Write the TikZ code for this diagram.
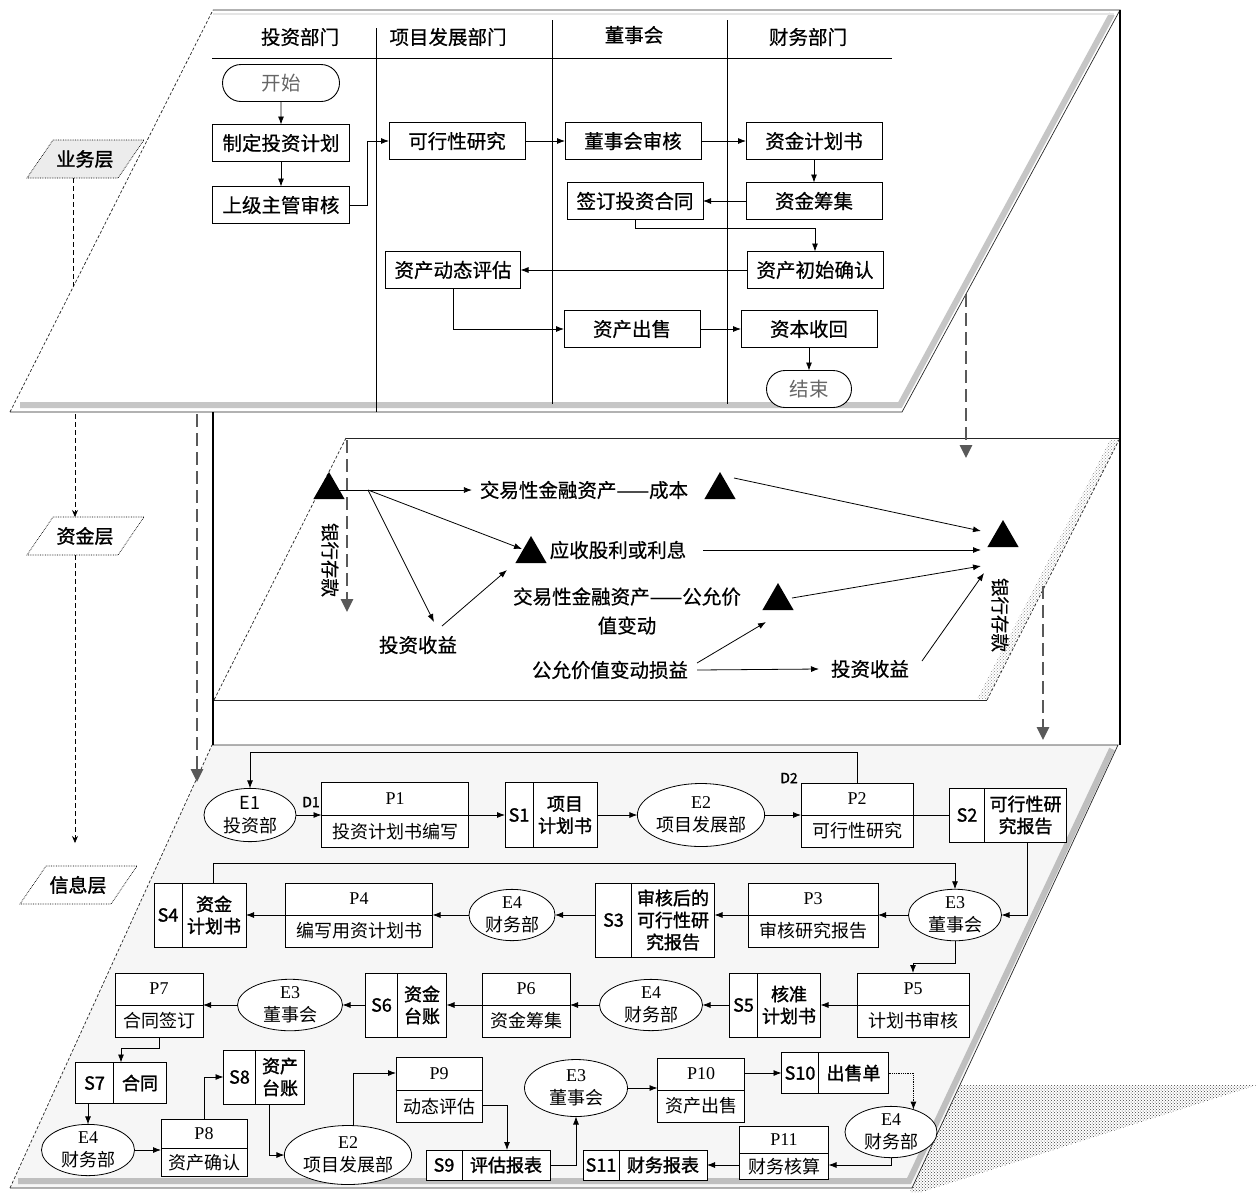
\documentclass[tikz,border=0pt]{standalone}
\usepackage{fontspec}
\setmainfont{Noto Sans CJK SC}
\newfontfamily\lserif{Liberation Serif}
\newfontfamily\cjkb[FakeBold=1.5]{Noto Sans CJK SC}
\newfontfamily\cjkm[FakeBold=0.6]{Noto Sans CJK SC}
\usetikzlibrary{arrows.meta,shapes.geometric,shapes.misc,calc,patterns}
\newcommand\fsz[2]{\fontsize{#1}{#2}\selectfont}
\tikzset{
  every node/.style={inner sep=0pt, outer sep=0pt},
  thinl/.style={line width=0.8pt},
  edge/.style={draw=black!85, line width=0.7pt},
  arr/.style={draw=black, line width=0.8pt, -{Latex[length=8pt,width=6pt]}},
  bigdash/.style={draw=black!65, line width=2.6pt, dash pattern=on 13pt off 6pt, -{Triangle[length=13pt,width=12pt]}},
  lbldash/.style={draw=black, line width=0.7pt, dash pattern=on 5pt off 3pt},
  lbl/.style={font=\cjkb\fsz{19}{22}, minimum width=92pt, minimum height=38pt},
  bbox/.style={draw=black, fill=white, line width=0.9pt, minimum width=136pt, minimum height=37pt, font=\cjkm\fsz{19.5}{23}},
  term/.style={draw=black, fill=white, line width=0.9pt, rounded rectangle, minimum height=37pt, font=\fsz{19.5}{23}, text=black!60},
  hdr/.style={font=\cjkm\fsz{19.5}{23}},
  tri/.style={regular polygon, regular polygon sides=3, fill=black, minimum size=36pt},
  mtxt/.style={font=\cjkm\fsz{19.5}{29}, align=center},
  bank/.style={font=\cjkm\fsz{18.5}{21}, rotate=-90},
  pbox/.style={draw=black, fill=white, line width=0.8pt},
  ptxt/.style={font=\fsz{18}{21}},
  stxt/.style={font=\cjkb\fsz{18}{22}, align=center},
  ell/.style={ellipse, draw=black, fill=white, line width=0.8pt, align=center, font=\fsz{18}{23}},
}
\newcommand\proc[7]{%
  \node[pbox, minimum width=#4pt, minimum height=#5pt] (#1) at (#2,#3) {};
  \draw[thinl] (#1.west) -- (#1.east);
  \node[ptxt] (#1-t) at ($(#1.north)!0.5!(#1.center)$) {\lserif #6};
  \node[ptxt] (#1-b) at ($(#1.south)!0.5!(#1.center)$) {#7};
}
\newcommand\store[8]{%
  \node[pbox, minimum width=#4pt, minimum height=#5pt] (#1) at (#2,#3) {};
  \draw[thinl] ([xshift=#6pt]#1.north west) -- ([xshift=#6pt]#1.south west);
  \node[stxt] (#1-l) at ($(#1.west)+(#6/2,0)$) {#7};
  \node[stxt] (#1-r) at ($([xshift=#6pt]#1.west)!0.5!(#1.east)$) {#8};
}
\begin{document}
\begin{tikzpicture}[x=1pt,y=-1pt]
\useasboundingbox (0,0) rectangle (1260,1192);
\fill[white] (0,0) rectangle (1260,1192);

% ---------------- top layer
\fill[white] (213,10) -- (1120,10) -- (902,412) -- (10,412) -- cycle;
\draw[gray!45, line width=6pt] (20,405) -- (900,405) -- (1112,14);
\draw[gray!20, line width=2pt] (213,14) -- (1114,14);
\draw[edge] (213,10) -- (1120,10) -- (902,412) -- (10,412);
\draw[edge, densely dashed] (10,412) -- (213,10);

% ---------------- middle layer
\fill[white] (346,438) -- (1120,438) -- (987,700) -- (214,700) -- cycle;
\fill[pattern=crosshatch dots, pattern color=black!45] (1110,440) -- (1119,440) -- (987,699) -- (977,699) -- cycle;
\draw[edge] (346,438) -- (1120,438);
\draw[edge] (214,700) -- (987,700);
\draw[edge, densely dashed] (987,700) -- (1120,438);
\draw[edge, densely dashed] (346,438) -- (214,700);

% ---------------- bottom layer
\fill[gray!7] (212,745) -- (1118,745) -- (912,1188) -- (10,1188) -- cycle;
\fill[pattern=crosshatch dots, pattern color=black!75] (960,1085) -- (1257,1085) -- (922,1192) -- (910,1192) -- cycle;
\draw[gray!50, line width=6pt] (18,1181) -- (909,1181) -- (1112,749);
\draw[edge] (212,745) -- (1118,745) -- (912,1188) -- (10,1188);
\draw[edge, densely dashed] (10,1188) -- (212,745);

% ---------------- frame
\draw[line width=2.2pt] (213,412) -- (213,745);
\draw[line width=2.2pt] (1120,10) -- (1120,745);

% ---------------- big dashed arrows
\coordinate (d1s) at (197,414); \coordinate (d1e) at (197,782);
\draw[bigdash] (d1s) -- (d1e);
\coordinate (d2s) at (966,294); \coordinate (d2e) at (966,458);
\draw[bigdash] (d2s) -- (d2e);
\coordinate (d3s) at (1043,586); \coordinate (d3e) at (1043,740);
\draw[bigdash] (d3s) -- (d3e);
\coordinate (d4s) at (347,440); \coordinate (d4e) at (347,612);
\draw[bigdash] (d4s) -- (d4e);

% ---------------- layer labels
\draw[densely dotted, fill=gray!15, line width=0.7pt] (53,140) -- (144,140) -- (118,178) -- (27,178) -- cycle;
\node[lbl] (L1) at (85,159) {业务层};
\draw[densely dotted, fill=white, line width=0.7pt] (53,517) -- (144,517) -- (118,555) -- (27,555) -- cycle;
\node[lbl] (L2) at (85,536) {资金层};
\draw[densely dotted, fill=white, line width=0.7pt] (46,866) -- (137,866) -- (111,904) -- (20,904) -- cycle;
\node[lbl] (L3) at (78,885) {信息层};
\coordinate (l1e) at (73,286);
\draw[lbldash] (L1.south -| l1e) -- (l1e);
\coordinate (l2s) at (75,414);
\draw[lbldash, -{Stealth[length=7pt,width=6pt]}] (l2s) -- (l2s |- L2.north);
\coordinate (l3e) at (75,843);
\draw[lbldash, -{Stealth[length=7pt,width=6pt]}] (l3e |- L2.south) -- (l3e);

% ---------------- swimlanes
\draw[thinl] (212,58) -- (892,58);
\draw[thinl] (376,28) -- (376,412);
\draw[thinl] (552,20) -- (552,404);
\draw[thinl] (727,20) -- (727,404);
\node[hdr] (h1) at (300,37) {投资部门};
\node[hdr] (h2) at (448,37) {项目发展部门};
\node[hdr] (h3) at (634,35) {董事会};
\node[hdr] (h4) at (808,37) {财务部门};

\node[term, minimum width=117pt] (start) at (281,83) {开始};
\node[bbox, minimum width=137pt] (plan) at (281,143) {制定投资计划};
\node[bbox, minimum width=137pt] (sup) at (281,205) {上级主管审核};
\node[bbox] (feas) at (457,141) {可行性研究};
\node[bbox] (brd) at (633,141) {董事会审核};
\node[bbox] (fplan) at (814,141) {资金计划书};
\node[bbox] (contr) at (635,201) {签订投资合同};
\node[bbox] (raise) at (814,201) {资金筹集};
\node[bbox, minimum width=135pt] (dyn) at (453,270) {资产动态评估};
\node[bbox] (init) at (815,270) {资产初始确认};
\node[bbox] (sell) at (632,329) {资产出售};
\node[bbox] (recov) at (809,329) {资本收回};
\node[term, minimum width=85pt] (end) at (809,389) {结束};

\draw[arr] (start) -- (plan);
\draw[arr] (plan) -- (sup);
\draw[arr] (sup.east) -- ++(18,0) |- (feas.west);
\draw[arr] (feas) -- (brd);
\draw[arr] (brd) -- (fplan);
\draw[arr] (fplan) -- (raise);
\draw[arr] (raise) -- (contr);
\draw[arr] (contr.south) -- ++(0,9) -| (init.north);
\draw[arr] (init) -- (dyn);
\draw[arr] (dyn.south) |- (sell.west);
\draw[arr] (sell) -- (recov);
\draw[arr] (recov) -- (end);

% ---------------- middle layer content
\node[tri] (T1) at (329,490) {};
\node[tri] (T2) at (720,490) {};
\node[tri] (T3) at (531,554) {};
\node[tri] (T4) at (778,601) {};
\node[tri] (T5) at (1003,538) {};
\node[mtxt] (c1) at (584,490) {交易性金融资产——成本};
\node[mtxt] (c2) at (618,550) {应收股利或利息};
\node[mtxt] (c3) at (418,645) {投资收益};
\node[mtxt] (c4) at (627,611) {交易性金融资产——公允价\\值变动};
\node[mtxt] (c5) at (610,670) {公允价值变动损益};
\node[mtxt] (c6) at (870,669) {投资收益};
\node[bank] (b1) at (330,560) {银行存款};
\node[bank] (b2) at (1000,615) {银行存款};

\coordinate (br) at (368,490);
\draw[arr] (T1.center) -- ([xshift=-8pt]c1.west);
\coordinate (a2) at (522,549); \draw[arr] (br) -- (a2);
\coordinate (a3) at (434,622); \draw[arr] (br) -- (a3);
\coordinate (a4s) at (442,626); \coordinate (a4e) at (507,570); \draw[arr] (a4s) -- (a4e);
\coordinate (a5s) at (734,478); \coordinate (a5e) at (981,531); \draw[arr] (a5s) -- (a5e);
\coordinate (a6e) at (981,550); \draw[arr] ([xshift=17pt]c2.east) -- (a6e);
\coordinate (a7s) at (792,598); \coordinate (a7e) at (981,566); \draw[arr] (a7s) -- (a7e);
\coordinate (a8s) at (697,663); \coordinate (a8e) at (766,622); \draw[arr] (a8s) -- (a8e);
\draw[arr] ([xshift=9pt]c5.east) -- ([xshift=-12pt]c6.west);
\coordinate (a10s) at (922,661); \coordinate (a10e) at (984,573); \draw[arr] (a10s) -- (a10e);

% ---------------- bottom layer content
\node[ell, minimum width=92pt, minimum height=50pt] (E1) at (250,815) {E1\\投资部};
\proc{P1}{395}{815}{147}{65}{P1}{投资计划书编写}
\store{S1}{551}{815}{92}{65}{28}{S1}{项目\\计划书}
\node[ell, minimum width=127pt, minimum height=63pt] (E2) at (701,815) {{\lserif E2}\\项目发展部};
\proc{P2}{857}{815}{112}{64}{P2}{可行性研究}
\store{S2}{1008}{815}{117}{54}{35}{S2}{可行性研\\究报告}
\node[font=\cjkb\fsz{14}{16}] (D1) at (311,802) {D1};
\node[font=\cjkb\fsz{14}{16}] (D2) at (789,778) {D2};

\node[ell, minimum width=93pt, minimum height=50pt] (E3a) at (955,915) {{\lserif E3}\\董事会};
\proc{P3}{813}{915}{130}{64}{P3}{审核研究报告}
\store{S3}{655}{920}{119}{74}{36}{S3}{审核后的\\可行性研\\究报告}
\node[ell, minimum width=86pt, minimum height=48pt] (E4a) at (512,915) {{\lserif E4}\\财务部};
\proc{P4}{359}{915}{147}{64}{P4}{编写用资计划书}
\store{S4}{200}{915}{92}{64}{28}{S4}{资金\\计划书}

\proc{P5}{913}{1005}{112}{64}{P5}{计划书审核}
\store{S5}{775}{1005}{91}{64}{28}{S5}{核准\\计划书}
\node[ell, minimum width=103pt, minimum height=50pt] (E4b) at (651,1005) {{\lserif E4}\\财务部};
\proc{P6}{526}{1005}{88}{64}{P6}{资金筹集}
\store{S6}{406}{1005}{81}{64}{32}{S6}{资金\\台账}
\node[ell, minimum width=105pt, minimum height=48pt] (E3b) at (290,1005) {{\lserif E3}\\董事会};
\proc{P7}{159}{1005}{88}{64}{P7}{合同签订}

\store{S7}{121}{1083}{91}{41}{38}{S7}{合同}
\node[ell, minimum width=93pt, minimum height=47pt] (E4c) at (88,1150) {{\lserif E4}\\财务部};
\proc{P8}{204}{1148}{86}{57}{P8}{资产确认}
\store{S8}{264}{1077}{81}{54}{32}{S8}{资产\\台账}
\node[ell, minimum width=116pt, minimum height=59pt] (E2b) at (348,1155) {{\lserif E2}\\项目发展部};
\proc{P9}{439}{1090}{86}{65}{P9}{动态评估}
\store{S9}{488}{1165}{124}{30}{36}{S9}{评估报表}
\node[ell, minimum width=103pt, minimum height=57pt] (E3c) at (576,1088) {{\lserif E3}\\董事会};
\proc{P10}{701}{1090}{87}{64}{P10}{资产出售}
\store{S10}{835}{1073}{107}{41}{37}{S10}{出售单}
\node[ell, minimum width=92pt, minimum height=47pt] (E4d) at (891,1132) {{\lserif E4}\\财务部};
\proc{P11}{784}{1153}{89}{53}{P11}{财务核算}
\store{S11}{645}{1165}{124}{30}{36}{S11}{财务报表}

\draw[arr] (P2.north) -- ++(0,-31) -| (E1.north);
\draw[arr] (E1.east) -- (P1.west);
\draw[arr] (P1.east) -- (S1.west);
\draw[arr] (S1.east) -- (E2.west);
\draw[arr] (E2.east) -- (P2.west);
\draw[thinl] (P2.east) -- (S2.west);
\draw[arr] ([xshift=19pt]S2.south) |- (E3a.east);
\draw[arr] (E3a.west) -- (P3.east);
\draw[arr] (P3.west) -- (P3.west -| S3.east);
\draw[arr] (E4a.east -| S3.west) -- (E4a.east);
\draw[arr] (E4a.west) -- (P4.east);
\draw[arr] (P4.west) -- (S4.east);
\draw[arr] ([xshift=13pt]S4.north) -- ++(0,-20) -| (E3a.north);
\draw[arr] (E3a.south) -- ++(0,23) -| (P5.north);
\draw[arr] (P5.west) -- (S5.east);
\draw[arr] (S5.west) -- (E4b.east);
\draw[arr] (E4b.west) -- (P6.east);
\draw[arr] (P6.west) -- (S6.east);
\draw[arr] (S6.west) -- (E3b.east);
\draw[arr] (E3b.west) -- (P7.east);
\draw[arr] (P7.south) -- ++(0,11) -| (S7.north);
\draw[arr] (E4c.north |- S7.south) -- (E4c.north);
\draw[arr] (E4c.east) -- (E4c.east -| P8.west);
\draw[arr] (P8.north) |- (S8.west);
\draw[arr] ([xshift=5pt]S8.south) |- (E2b.west);
\draw[arr] ([xshift=5pt]E2b.north) |- ([yshift=17pt]P9.west);
\draw[arr] ([yshift=-15pt]P9.east) -| ([xshift=19pt]S9.north);
\draw[arr] (S9.east) -| (E3c.south);
\draw[arr] (E3c.east) -- (E3c.east -| P10.west);
\draw[arr] ([yshift=17pt]P10.east) -- (S10.west);
\draw[arr, densely dotted] (S10.east) -| (E4d.45);
\draw[arr] (E4d.south) |- ([yshift=-12pt]P11.east);
\draw[arr] ([yshift=-12pt]P11.west) -- (S11.east);
\end{tikzpicture}
\end{document}
